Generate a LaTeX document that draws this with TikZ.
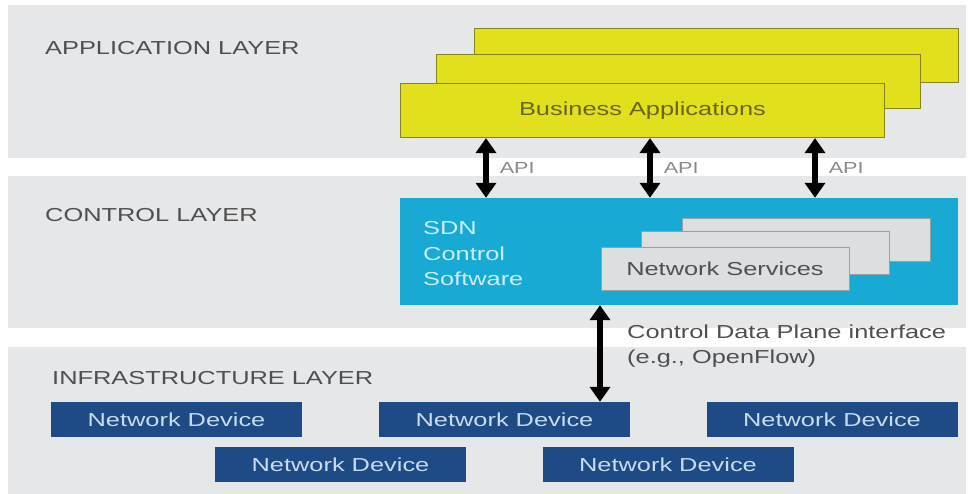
\documentclass[tikz,border=0pt]{standalone}
\usepackage{fontspec}
\setmainfont[FakeStretch=1.35]{Liberation Sans}
\usetikzlibrary{arrows.meta}
\definecolor{bandgray}{HTML}{E6E7E9}
\definecolor{appyellow}{HTML}{E2E01C}
\definecolor{appedge}{HTML}{85841F}
\definecolor{apptext}{HTML}{66661E}
\definecolor{ctrlcyan}{HTML}{19A9D5}
\definecolor{sdntext}{HTML}{C8EFF9}
\definecolor{svcgray}{HTML}{DCDEE0}
\definecolor{svcedge}{HTML}{9A9FA4}
\definecolor{svctext}{HTML}{505050}
\definecolor{devblue}{HTML}{1E4A85}
\definecolor{devtext}{HTML}{C9DBEE}
\definecolor{lbltext}{HTML}{4F4F4F}
\definecolor{apitext}{HTML}{8A8A8A}
\newcommand{\bigtxt}{\fontsize{18.8}{25.5}\selectfont}
\tikzset{
  layerlbl/.style={anchor=base west,inner sep=0pt,text=lbltext,font=\bigtxt},
  appbox/.style={draw=appedge,fill=appyellow,line width=1.2pt,minimum width=484pt,minimum height=54pt,inner sep=0pt},
  svcbox/.style={draw=svcedge,fill=svcgray,line width=1pt,minimum width=248pt,minimum height=43pt,inner sep=0pt},
  devbox/.style={fill=devblue,text=devtext,minimum width=251pt,minimum height=35pt,inner sep=0pt,font=\bigtxt},
  dbl/.style={{Triangle[width=20pt,length=15pt]}-{Triangle[width=20pt,length=15pt]},line width=5.5pt},
  apilbl/.style={midway,anchor=west,xshift=11pt,inner sep=0pt,text=apitext,font=\fontsize{16}{19}\selectfont},
}
\begin{document}
\begin{tikzpicture}[x=1pt,y=-1pt]
  \useasboundingbox (0,0) rectangle (970,494);
  % layer bands
  \fill[bandgray] (8,5) rectangle (966,158);
  \fill[bandgray] (8,176) rectangle (966,328);
  \fill[bandgray] (8,347) rectangle (966,494);
  \node[layerlbl] (applbl) at (45,55) {APPLICATION LAYER};
  \node[layerlbl] (ctrllbl) at (45,222) {CONTROL LAYER};
  \node[layerlbl] (infralbl) at (52,385) {INFRASTRUCTURE LAYER};
  % application layer
  \node[appbox] (ba3) at (716.5,55.5) {};
  \node[appbox] (ba2) at (678.5,81.5) {};
  \node[appbox,text=apptext,font=\bigtxt] (ba) at (642.5,110.5) {\raisebox{-2pt}{Business Applications}};
  % control layer
  \node[fill=ctrlcyan,minimum width=558pt,minimum height=107pt,inner sep=0pt] (ctrl) at (679,251.5) {};
  \node[anchor=north west,align=left,inner sep=0pt,text=sdntext,font=\bigtxt] (sdn) at (423,221.5) {SDN\\Control\\Software};
  \node[svcbox] (ns3) at (806.5,240) {};
  \node[svcbox] (ns2) at (765.5,253.5) {};
  \node[svcbox,text=svctext,font=\bigtxt] (ns) at (725,269) {Network Services};
  % infrastructure layer
  \node[devbox] (nd1) at (176.5,419.5) {Network Device};
  \node[devbox] (nd2) at (504.5,419.5) {Network Device};
  \node[devbox] (nd3) at (832,419.5) {Network Device};
  \node[devbox] (nd4) at (340.5,464.5) {Network Device};
  \node[devbox] (nd5) at (668,464.5) {Network Device};
  % interfaces
  \coordinate (a1) at (486,0);
  \coordinate (a2) at (650,0);
  \coordinate (a3) at (815,0);
  \coordinate (c1) at (600,0);
  \draw[dbl] (ba.south -| a1) -- (ctrl.north -| a1) node[apilbl] (api1) {API};
  \draw[dbl] (ba.south -| a2) -- (ctrl.north -| a2) node[apilbl] (api2) {API};
  \draw[dbl] (ba.south -| a3) -- (ctrl.north -| a3) node[apilbl] (api3) {API};
  \draw[dbl] (ctrl.south -| c1) -- (nd2.north -| c1);
  \node[anchor=north west,align=left,inner sep=0pt,text=lbltext,font=\fontsize{18.8}{25}\selectfont] (cdpi) at (627,324.5) {Control Data Plane interface\\(e.g., OpenFlow)};
\end{tikzpicture}
\end{document}
